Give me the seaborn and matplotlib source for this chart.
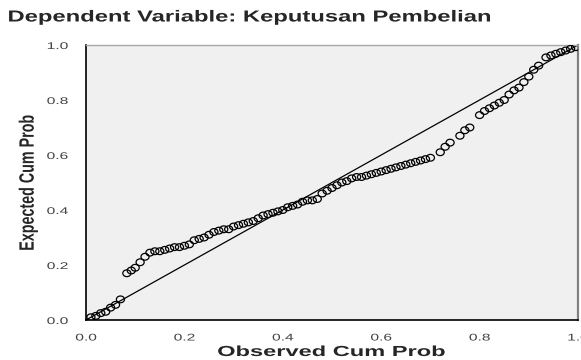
import matplotlib
matplotlib.use("Agg")
import matplotlib.pyplot as plt
import seaborn as sns
import pandas as pd
from matplotlib.patheffects import AbstractPathEffect
from matplotlib.transforms import Affine2D
from matplotlib.path import Path

# Observed cumulative probability (x) and expected cumulative probability (y)
observed_cum_prob = [
    0.010, 0.020, 0.030, 0.040, 0.050, 0.060, 0.070, 0.083, 0.092, 0.100,
    0.110, 0.120, 0.130, 0.140, 0.150, 0.160, 0.170, 0.180, 0.190, 0.200,
    0.210, 0.220, 0.230, 0.240, 0.250, 0.260, 0.270, 0.280, 0.290, 0.300,
    0.310, 0.320, 0.330, 0.340, 0.350, 0.360, 0.370, 0.380, 0.390, 0.400,
    0.410, 0.420, 0.430, 0.440, 0.450, 0.460, 0.470, 0.480, 0.490, 0.500,
    0.510, 0.520, 0.530, 0.540, 0.550, 0.560, 0.570, 0.580, 0.590, 0.600,
    0.610, 0.620, 0.630, 0.640, 0.650, 0.660, 0.670, 0.680, 0.690, 0.700,
    0.720, 0.730, 0.740, 0.760, 0.770, 0.780, 0.800, 0.810, 0.820, 0.830,
    0.840, 0.850, 0.860, 0.870, 0.880, 0.890, 0.900, 0.910, 0.920, 0.935,
    0.945, 0.955, 0.965, 0.975, 0.985, 0.995,
]
expected_cum_prob = [
    0.010, 0.015, 0.025, 0.030, 0.045, 0.055, 0.075, 0.170, 0.180, 0.190,
    0.210, 0.230, 0.245, 0.250, 0.250, 0.255, 0.260, 0.265, 0.265, 0.270,
    0.275, 0.290, 0.295, 0.300, 0.310, 0.320, 0.325, 0.330, 0.330, 0.340,
    0.345, 0.350, 0.355, 0.360, 0.370, 0.380, 0.385, 0.390, 0.395, 0.400,
    0.410, 0.415, 0.420, 0.430, 0.435, 0.435, 0.440, 0.460, 0.470, 0.480,
    0.490, 0.500, 0.505, 0.515, 0.520, 0.520, 0.525, 0.530, 0.535, 0.540,
    0.545, 0.550, 0.555, 0.560, 0.565, 0.570, 0.575, 0.580, 0.585, 0.590,
    0.610, 0.630, 0.645, 0.670, 0.690, 0.700, 0.745, 0.760, 0.770, 0.780,
    0.790, 0.800, 0.820, 0.835, 0.845, 0.865, 0.885, 0.910, 0.925, 0.955,
    0.962, 0.968, 0.974, 0.980, 0.986, 0.992,
]
reference_line = [0.0, 1.0]
tick_values = [0.0, 0.2, 0.4, 0.6, 0.8, 1.0]
tick_labels = ["0.0", "0.2", "0.4", "0.6", "0.8", "1.0"]

title_text = "Dependent Variable: Keputusan Pembelian"
x_label = "Observed Cum Prob"
y_label = "Expected Cum Prob"


class StretchX(AbstractPathEffect):
    """Draw real text glyphs widened horizontally (the reference image is stretched)."""

    def __init__(self, sx, frac):
        super().__init__()
        self.sx = sx
        self.frac = frac

    def draw_path(self, renderer, gc, tpath, affine, rgbFace=None):
        ext = tpath.get_extents(affine)
        x0 = ext.x0 + self.frac * ext.width
        new = affine + Affine2D().translate(-x0, 0).scale(self.sx, 1).translate(x0, 0)
        renderer.draw_path(gc, tpath, new, rgbFace)


df = pd.DataFrame({"obs": observed_cum_prob, "exp": expected_cum_prob})
ref = pd.DataFrame({"x": reference_line, "y": reference_line})

sns.set_theme(style="white")
plt.rcParams["font.family"] = ["Liberation Sans", "DejaVu Sans"]

W, H = 581, 360
fig = plt.figure(figsize=(W / 100, H / 100), dpi=100)
ax = fig.add_axes([86 / W, 1 - 320 / H, (578 - 86) / W, (320 - 45) / H])
ax.set_facecolor("#f0f0f0")

# slightly wide oval marker, like the stretched reference
oval = Path.unit_circle().transformed(Affine2D().scale(1.2, 1.0))

sns.lineplot(data=ref, x="x", y="y", ax=ax, color="black", linewidth=0.9,
             estimator=None, sort=False)
sns.scatterplot(data=df, x="obs", y="exp", ax=ax, s=34, facecolor="none",
                edgecolor="black", linewidth=0.9, marker=oval, zorder=3)

ax.set_xlim(0, 1)
ax.set_ylim(0, 1)
ax.set_xticks(tick_values)
ax.set_xticklabels(tick_labels)
ax.set_yticks(tick_values)
ax.set_yticklabels(tick_labels)
ax.tick_params(axis="both", direction="out", colors="#222222", labelsize=7,
               labelcolor="#444444")
ax.tick_params(axis="y", length=9, width=1.0, pad=4)
ax.tick_params(axis="x", length=4, width=1.0, pad=5)
for lab in ax.get_yticklabels():
    lab.set_path_effects([StretchX(1.6, 1.0)])
for lab in ax.get_xticklabels():
    lab.set_path_effects([StretchX(1.6, 0.5)])

for side in ["left", "bottom"]:
    ax.spines[side].set_color("black")
    ax.spines[side].set_linewidth(1.2)
ax.spines["top"].set_color("#a8a8a8")
ax.spines["top"].set_linewidth(1.0)
ax.spines["right"].set_color("#808080")
ax.spines["right"].set_linewidth(1.6)

ax.set_xlabel("")
ax.set_ylabel("")
fig.text(332 / W, 1 - 352 / H, x_label, ha="center", va="center",
         fontsize=10.5, fontweight="bold",
         path_effects=[StretchX(1.62, 0.5)])
fig.text(28 / W, 1 - 183 / H, y_label, ha="center", va="center",
         rotation=90, fontsize=10.3, fontweight="bold",
         path_effects=[StretchX(1.45, 0.5)])
fig.text(8 / W, 1 - 17 / H, title_text, ha="left", va="center",
         fontsize=11.5, fontweight="bold",
         path_effects=[StretchX(1.49, 0.0)])

fig.savefig("out.png", dpi=100, facecolor="white")
